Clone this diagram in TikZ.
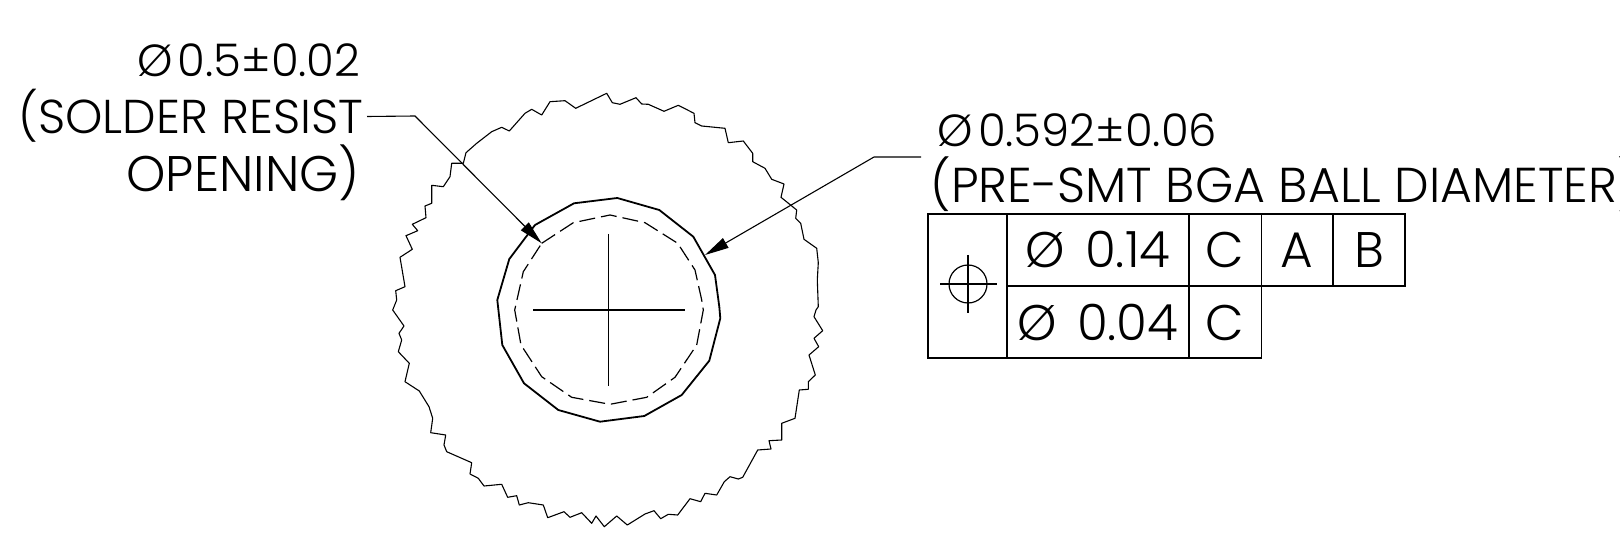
\documentclass[tikz,border=0pt]{standalone}
\usepackage{fontspec}
\setmainfont{Poppins}[UprightFont=* Light]
\usetikzlibrary{arrows.meta,positioning}

\begin{document}
\begin{tikzpicture}[x=1pt,y=-1pt,>={Triangle[length=24pt,width=11pt]},line width=1.2pt,
                    font=\fontsize{48}{48}\selectfont]
  \tikzstyle{callout}=[anchor=base east,inner sep=0pt,text height=35pt,text depth=0pt]
  \tikzstyle{dimtext}=[anchor=base west,inner sep=0pt,text height=35pt,text depth=0pt]
  \tikzstyle{leader}=[->,line width=1.1pt]
  \tikzstyle{cell}=[draw,inner sep=0pt,outer sep=0pt,minimum height=72pt,text height=36pt,text depth=0pt,
                    font=\fontsize{50}{50}\selectfont]

  \useasboundingbox (0,0) rectangle (1620,540);

  % solder resist opening callout
  \node[callout,font=\fontsize{45}{45}\selectfont] (dimA)   at (361,77)  {Ø\hspace{5pt}0.5±0.02};
  \node[callout,outer xsep=4pt,font=\fontsize{47.5}{48}\selectfont] (solder) at (367,134) {(SOLDER RESIST};
  \node[callout,font=\fontsize{50}{50}\selectfont] (open)   at (360,192) {OPENING)};
  \coordinate (bendA) at (415,116);
  \coordinate (tipA)  at (541.7,243.3);

  % ball diameter callout
  \node[dimtext,font=\fontsize{45}{45}\selectfont] (dimB) at (937,147) {Ø\hspace{5pt}0.592±0.06};
  \node[dimtext,font=\fontsize{49}{49}\selectfont] (ball) at (930,203) {(PRE-SMT BGA BALL DIAMETER)};
  \coordinate (startB) at (921,157);
  \coordinate (bendB)  at (874,157);
  \coordinate (tipB)   at (705,255);

  % pad outlines
  \draw[line width=1.1pt,line join=round] (463.3,163.3) -- (466,152.7) -- (476.7,143.3) -- (491.7,131.7)
    -- (501.7,127.3) -- (509.3,131) -- (525,113.3) -- (531.7,109.3) -- (541.7,115) -- (550,101.7)
    -- (565,100.7) -- (575.7,108.3) -- (606.7,93.3) -- (612.3,102.7) -- (620,104.3) -- (636,97.7)
    -- (641.7,104) -- (648.3,104.3) -- (664,111.3) -- (678.3,105.3) -- (694,113.3) -- (695,122.7)
    -- (701.7,126) -- (725,128.3) -- (728.3,142.7) -- (743.3,141) -- (752.7,153.3) -- (752.7,161.7)
    -- (765,168.3) -- (771.7,179.3) -- (784,184) -- (781,197.3) -- (796.7,210) -- (795.7,218.3)
    -- (800.7,223.3) -- (804,239.3) -- (816.7,248.3) -- (818.3,262.7) -- (817.3,280) -- (818.3,306.7)
    -- (816,310) -- (814,316.7) -- (822.7,330.7) -- (814,338.3) -- (818.7,346.7) -- (809,355)
    -- (815.3,375) -- (808.3,381.7) -- (808.3,389.3) -- (799.3,390) -- (795,418.3) -- (781.7,423.3)
    -- (781.7,440) -- (769,440.7) -- (771,449) -- (757.7,450) -- (742.7,477.3) -- (738.3,479)
    -- (730,476.7) -- (724.3,481.7) -- (716.7,495) -- (705,493.3) -- (700.7,501.7) -- (690,498.7)
    -- (677.7,515) -- (668.3,514.3) -- (660.7,518.7) -- (654,510.7) -- (645,514) -- (627.3,525)
    -- (616.7,516) -- (604.3,526.7) -- (596,516) -- (591.7,523.3) -- (581.7,512.7) -- (570,517.3)
    -- (564,511.7) -- (547.7,517.7) -- (543.3,505) -- (528.3,502.7) -- (519.3,505) -- (516.7,495.7)
    -- (507.7,497.3) -- (501.7,484.3) -- (484,486) -- (478.3,478.3) -- (470,474) -- (471.7,462.7)
    -- (446.7,451.7) -- (444,445) -- (445.7,435) -- (430.7,432.7) -- (432.7,418.3) -- (429,406.7)
    -- (419.3,391) -- (405,381.7) -- (409.3,363.3) -- (398.3,351.7) -- (401.7,340) -- (399,333.3)
    -- (404,326) -- (392.7,310) -- (396.7,300) -- (395.7,290.7) -- (405,286.7) -- (400,257.3)
    -- (412.3,249.3) -- (406,235.7) -- (417.7,230.7) -- (412.3,224.3) -- (426,217.7) -- (425,206)
    -- (431.7,203.3) -- (431.7,185.3) -- (443.3,186.7) -- (450,176.7) -- (451.7,163.3) -- cycle;
  \draw[line width=1.8pt,line join=round] (535,225) -- (574,203.3) -- (617.3,198) -- (659.3,210) -- (693.3,236.7)
    -- (715,275) -- (719.3,306.7) -- (720.3,318.3) -- (709.3,360.7) -- (681.7,395) -- (644.3,416)
    -- (600,421.7) -- (558.3,410) -- (524,383.3) -- (502.3,345) -- (497.3,300) -- (509.3,259) -- cycle;
  \draw[dash pattern=on 16pt off 6pt] (541.7,243.3) -- (573.3,222.7) -- (610,215) -- (645,222.7) -- (677.7,243.3)
    -- (695,270) -- (701.7,300) -- (703.3,310) -- (696.7,345) -- (675,377.3) -- (646.7,397.3)
    -- (610,404.3) -- (571.7,397.3) -- (541.7,376.7) -- (521,345) -- (514.7,310) -- (523.3,271.7) -- cycle;

  % centre mark
  \draw (608.7,234) -- (608.7,386);
  \draw (533,310) -- (685,310);

  \draw[leader] (solder.east) -- (bendA) -- (tipA);
  \draw[leader] (startB) -- (bendB) -- (tipB);

  % feature control frame
  \node[draw,inner sep=0pt,outer sep=0pt,minimum width=79pt,minimum height=144pt,anchor=north west] (sym) at (928,214) {};
  \node[cell,minimum width=182pt,anchor=north west] (tolA) at (sym.north east) {Ø\hspace{20pt}0.14\hspace{5pt}};
  \node[cell,minimum width=72.5pt,right=0pt of tolA] (datC) {C};
  \node[cell,minimum width=71.5pt,right=0pt of datC] (datA) {A};
  \node[cell,minimum width=72pt,right=0pt of datA] (datB) {B};
  \node[cell,minimum width=182pt,below=0pt of tolA] (tolB) {Ø\hspace{20pt}0.04\hspace{5pt}};
  \node[cell,minimum width=72.5pt,right=0pt of tolB] (datD) {C};
  \draw (968,284) circle (19pt);
  \draw (940,284) -- (997,284);
  \draw (968,255) -- (968,313);
\end{tikzpicture}
\end{document}
